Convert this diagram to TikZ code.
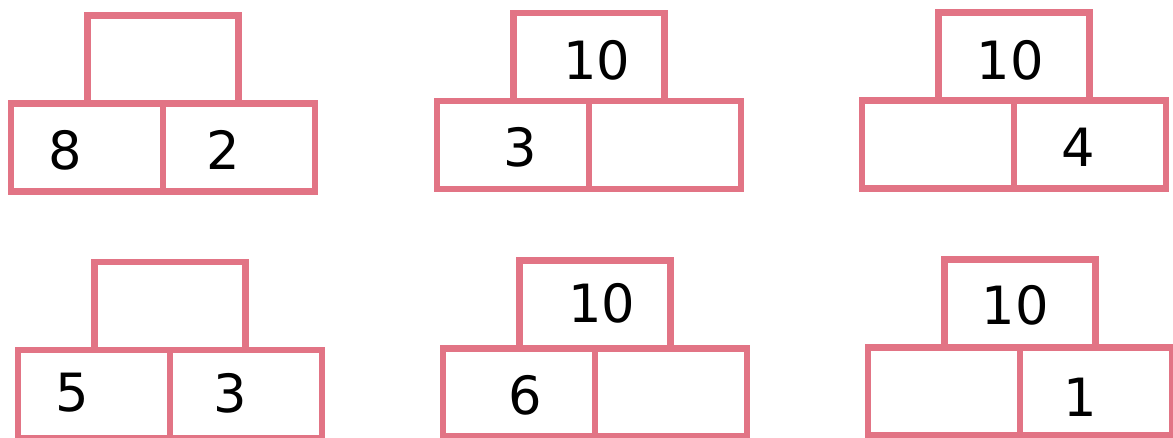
\documentclass[tikz,border=0pt]{standalone}
\usepackage{fontspec}
\setmainfont{DejaVu Sans}
\definecolor{bondpink}{RGB}{226,116,133}
\tikzset{
  bondbox/.style={draw=bondpink, line width=0.135cm, rectangle, inner sep=0pt,
    minimum width=3.04cm, minimum height=1.76cm},
  wholebox/.style={bondbox, minimum width=3.02cm},
  digit/.style={font=\fontsize{30}{30}\selectfont, inner sep=0pt}
}

\begin{document}
\begin{tikzpicture}[x=0.02cm, y=-0.02cm]
\fill[white] (0,0) rectangle (1173,438);
\useasboundingbox (0,0) rectangle (1173,438);

% Top left figure
\begin{scope}[shift={(163,103.5)}]
\node[wholebox] (whole1) at (0,-44) {};
\node[bondbox] (left1) at (-76,44) {};
\node[bondbox] (right1) at (76,44) {};
\node[digit] (l1) at (-98,46.5) {8};
\node[digit] (r1) at (60,46.5) {2};
\end{scope}

% Top middle figure
\begin{scope}[shift={(589,101)}]
\node[wholebox] (whole2) at (0,-44) {};
\node[bondbox] (left2) at (-76,44) {};
\node[bondbox] (right2) at (76,44) {};
\node[digit] (w2) at (8,-41) {10};
\node[digit] (l2) at (-69,46) {3};
\end{scope}

% Top right figure
\begin{scope}[shift={(1014,100.5)}]
\node[wholebox] (whole3) at (0,-44) {};
\node[bondbox] (left3) at (-76,44) {};
\node[bondbox] (right3) at (76,44) {};
\node[digit] (w3) at (-4,-40.5) {10};
\node[digit] (r3) at (64,46.5) {4};
\end{scope}

% Bottom left figure
\begin{scope}[shift={(170,350)}]
\node[wholebox] (whole4) at (0,-44) {};
\node[bondbox] (left4) at (-76,44) {};
\node[bondbox] (right4) at (76,44) {};
\node[digit] (l4) at (-98,43) {5};
\node[digit] (r4) at (60,43) {3};
\end{scope}

% Bottom middle figure
\begin{scope}[shift={(595,348.5)}]
\node[wholebox] (whole5) at (0,-44) {};
\node[bondbox] (left5) at (-76,44) {};
\node[bondbox] (right5) at (76,44) {};
\node[digit] (w5) at (7,-45.5) {10};
\node[digit] (l5) at (-70,46.5) {6};
\end{scope}

% Bottom right figure
\begin{scope}[shift={(1020,347.5)}]
\node[wholebox] (whole6) at (0,-44) {};
\node[bondbox] (left6) at (-76,44) {};
\node[bondbox] (right6) at (76,44) {};
\node[digit] (w6) at (-5,-42.5) {10};
\node[digit] (r6) at (60,49.5) {1};
\end{scope}
\end{tikzpicture}
\end{document}
